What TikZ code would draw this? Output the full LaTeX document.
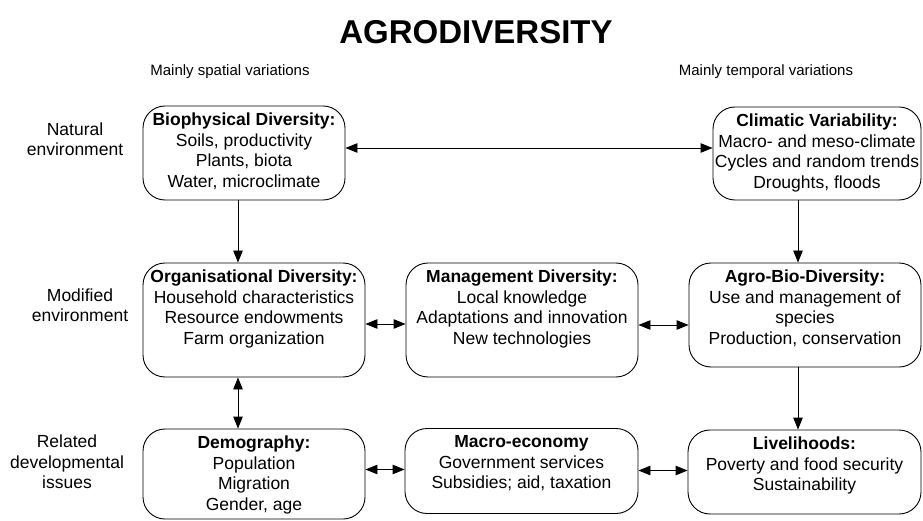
\documentclass[tikz,border=0pt]{standalone}
\usepackage{fontspec}
\setmainfont{Liberation Sans}
\usetikzlibrary{arrows.meta}
\usetikzlibrary{calc}

% caja de texto con alto fijo y texto arriba
\newcommand{\cajatexto}[3]{\parbox[c][#2][t]{#1}{\centering\vspace*{7pt}#3}}

\begin{document}
\begin{tikzpicture}[
        x=1pt, y=-1pt,
        font=\fontsize{17.5}{20.5}\selectfont,
        >={Triangle[length=12pt,width=9.5pt]},
        caja/.style={draw, rounded corners=22pt, inner sep=0pt, line width=0.9pt},
        flecha/.style={line width=0.9pt},
        rotulo/.style={align=center, inner sep=0pt}
    ]
        \useasboundingbox (0,0) rectangle (923,521);

        % --- Titulo y encabezados ---
        \node[font=\fontsize{33}{36}\selectfont\bfseries] (titulo) at (476,32) {AGRODIVERSITY};
        \node[rotulo, font=\fontsize{15}{18}\selectfont] (espacial) at (230,72) {Mainly spatial variations};
        \node[rotulo, font=\fontsize{15}{18}\selectfont] (temporal) at (766,72) {Mainly temporal variations};

        % --- Rotulos de las filas ---
        \node[rotulo] (natural) at (75,139) {Natural\\environment};
        \node[rotulo] (modificado) at (80,305) {Modified\\environment};
        \node[rotulo] (relacionado) at (67,462) {Related\\developmental\\issues};

        % --- Fila 1 ---
        \node[caja] (bio) at (244,153) {\cajatexto{202pt}{94pt}{\textbf{Biophysical Diversity:}\\
            Soils, productivity\\Plants, biota\\Water, microclimate}};
        \node[caja] (clim) at (817,153.5) {\cajatexto{208pt}{93pt}{\textbf{Climatic Variability:}\\
            Macro- and meso-climate\\Cycles and random trends\\Droughts, floods}};

        % --- Fila 2 ---
        \node[caja] (org) at (254,320) {\cajatexto{222pt}{114pt}{\textbf{Organisational Diversity:}\\
            Household characteristics\\Resource endowments\\Farm organization}};
        \node[caja] (mgmt) at (522,320) {\cajatexto{232pt}{114pt}{\textbf{Management Diversity:}\\
            Local knowledge\\Adaptations and innovation\\New technologies}};
        \node[caja] (agro) at (805,315) {\cajatexto{232pt}{104pt}{\textbf{Agro-Bio-Diversity:}\\
            Use and management of\\species\\Production, conservation}};

        % --- Fila 3 ---
        \node[caja] (demo) at (254,474) {\cajatexto{222pt}{90pt}{\textbf{Demography:}\\
            Population\\Migration\\Gender, age}};
        \node[caja] (macro) at (521.5,471) {\cajatexto{233pt}{85pt}{\textbf{Macro-economy}\\
            Government services\\Subsidies; aid, taxation}};
        \node[caja] (live) at (804.5,472) {\cajatexto{233pt}{84pt}{\textbf{Livelihoods:}\\
            Poverty and food security\\Sustainability}};

        % --- Flechas horizontales ---
        \draw[flecha, <->] ([yshift=5pt]bio.east) -- ([yshift=5pt]bio.east -| clim.west);
        \draw[flecha, <->] ([yshift=-4pt]org.east) -- ([yshift=-4pt]org.east -| mgmt.west);
        \draw[flecha, <->] ([yshift=-5pt]mgmt.east) -- ([yshift=-5pt]mgmt.east -| agro.west);
        \draw[flecha, <->] ([yshift=1.5pt]macro.west) -- ([yshift=1.5pt]macro.west -| demo.east);
        \draw[flecha, <->] ([yshift=0.5pt]macro.east) -- ([yshift=0.5pt]macro.east -| live.west);

        % --- Flechas verticales ---
        \draw[flecha, ->] ([xshift=-6pt]bio.south) -- ([xshift=-6pt]bio.south |- org.north);
        \draw[flecha, <->] ([xshift=-16pt]org.south) -- ([xshift=-16pt]org.south |- demo.north);
        \draw[flecha, ->] ([xshift=-19pt]clim.south) -- ([xshift=-19pt]clim.south |- agro.north);
        \draw[flecha, ->] ([xshift=-7pt]agro.south) -- ([xshift=-7pt]agro.south |- live.north);

    \end{tikzpicture}
\end{document}
